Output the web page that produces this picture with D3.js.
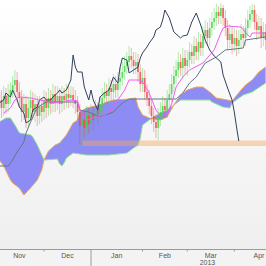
<!DOCTYPE html>
<html>
<head>
<meta charset="utf-8">
<script src="https://cdn.jsdelivr.net/npm/d3@7"></script>
<style>
  html, body { margin: 0; padding: 0; background: #f3f3f3; }
  svg { display: block; }
</style>
</head>
<body>
<div id="chart"></div>
<script>
const width = 266, height = 266, axisY = 249.5;

// bar index 0 = 1 Nov 2012, one bar per weekday
const months = [
  {label: "Nov", start: 0}, {label: "Dec", start: 22}, {label: "Jan", start: 43},
  {label: "Feb", start: 66}, {label: "Mar", start: 86}, {label: "Apr", start: 107}, {label: "", start: 129}
];
const years = [{label: "2013", start: 43, end: 147}];

// candles, bar index 2..121 (price units of the chart, no scale shown)
const firstBar = 2;
const opens = [158,150,142,154,146,155,160,165,170,158, 152,138,146,132,142,150,138,146,134,144,
  138,150,142,152,146,156,148,154,146,154, 150,156,152,155,150,146,138,124,130,122,
  134,126,136,130,140,136,146,152,158,154, 162,158,166,160,168,172,178,184,188,194,
  190,184,188,178,166,172,158,152,144,134, 128,122,132,138,144,140,150,156,166,174,
  180,188,182,192,184,190,198,194,204,198, 208,202,214,220,212,222,228,232,238,234,
  242,232,222,210,216,206,212,204,210,216, 212,222,230,236,240,228,220,224,212,218];
const closes = [150,142,154,146,155,160,165,170,158,152, 138,146,132,142,150,138,146,134,144,138,
  150,142,152,146,156,148,154,146,154,150, 156,152,155,150,146,138,124,130,122,134,
  126,136,130,140,136,146,152,158,154,162, 158,166,160,168,172,178,184,188,194,190,
  184,188,178,166,172,158,152,144,134,128, 122,132,138,144,140,150,156,166,174,180,
  188,182,192,184,190,198,194,204,198,208, 202,214,220,212,222,228,232,238,234,242,
  232,222,210,216,206,212,204,210,216,212, 222,230,236,240,228,220,224,212,218,210];
const highs = [167,160,164,162,166,168,174,180,178,168, 160,156,154,152,160,158,156,154,154,152,
  160,158,162,160,166,164,164,162,164,162, 166,164,164,163,160,154,146,140,138,144,
  142,146,144,150,148,154,162,168,166,172, 170,176,174,178,182,188,194,198,204,202,
  198,198,196,186,182,180,166,160,152,142, 136,142,148,154,152,160,166,176,184,190,
  198,196,202,200,200,208,206,214,212,218, 216,224,230,228,232,238,242,246,244,247,
  245,240,230,226,224,222,220,220,226,224, 232,240,244,246,245,236,234,232,228,226];
const lows = [140,132,134,136,138,146,152,156,148,142, 128,130,122,124,132,130,128,124,126,128,
  130,132,134,136,138,138,140,136,138,140, 142,142,144,142,136,130,106,104,112,114,
  116,118,120,122,126,128,136,144,146,146, 150,150,152,152,160,164,170,176,180,182,
  176,176,168,158,158,150,144,136,126,118, 112,110,124,130,132,132,142,148,158,166,
  172,174,172,176,174,182,186,186,190,190, 194,194,206,204,204,214,220,224,226,226,
  224,214,200,202,196,198,194,196,202,204, 204,214,222,228,220,210,212,202,204,200];

// ichimoku lines as [bar index, value]
const tenkan = [[4,137],[7,142],[9,150],[11,153],[16,152],[20,150],[27,147],[34,150],[37,149],[38,140],
  [41,130],[45,133],[48,133],[52,140],[55,150],[58,160],[60,170],[65,170],[67,165],[69,157],[72,140],
  [74,134],[77,136],[79,146],[81,163],[84,173],[87,180],[93,187],[98,200],[101,217],[102,222],[104,224],
  [110,223],[113,215],[114,213],[115,217],[121,217]];
const kijun = [[2,84],[6,84],[8,90],[10,98],[13,108],[14,117],[16,128],[18,138],[20,144],[23,148],[37,148],
  [38,140],[42,138],[47,133],[53,138],[57,147],[60,151],[81,151],[84,157],[87,167],[90,173],[94,187],
  [99,193],[103,200],[111,202],[112,210],[121,213]];
const chikou = [[2,147],[4,150],[5,157],[7,153],[8,160],[10,150],[11,143],[13,137],[14,127],[16,130],
  [17,140],[19,143],[20,150],[22,153],[23,150],[25,150],[26,153],[28,157],[29,160],[30,157],[32,160],
  [34,170],[35,195],[36,183],[37,178],[39,178],[40,163],[42,150],[43,160],[44,150],[46,140],[47,153],
  [49,157],[51,160],[53,173],[55,167],[56,183],[57,192],[59,190],[60,177],[62,180],[64,183],[65,192],
  [66,197],[68,203],[69,207],[71,213],[72,220],[74,223],[75,230],[76,240],[78,232],[80,218],[83,212],
  [84,214],[86,215],[88,228],[90,237],[92,225],[94,210],[96,200],[98,194],[101,188],[102,175],[104,162],
  [106,150],[107,138],[108,123],[109,109]];
const senkouA = [[2,128],[5,132],[7,132],[9,125],[11,117],[16,115],[17,113],[19,105],[22,90],[28,91],
  [29,86],[30,84],[31,87],[32,92],[35,97],[41,95],[51,95],[59,97],[62,102],[64,105],[65,112],[66,125],
  [69,130],[74,137],[77,140],[80,145],[83,150],[96,150],[97,148],[102,143],[105,142],[106,147],[111,155],
  [115,158],[121,167]];
const senkouB = [[2,90],[4,84],[7,70],[8,67],[11,62],[13,55],[16,62],[19,70],[21,80],[22,90],[24,99],
  [27,105],[29,107],[32,115],[35,127],[37,130],[38,138],[41,142],[47,145],[50,148],[53,150],[60,151],
  [63,152],[64,143],[66,135],[69,132],[74,130],[77,133],[80,145],[83,155],[86,160],[90,163],[93,163],
  [96,158],[99,152],[104,150],[106,149],[110,160],[112,165],[115,170],[118,178],[121,183]];
// highlighted price band
const band = {from: 39, to: 125, low: 104, high: 109.5};

const x = d3.scaleLinear().domain([22, 107]).range([44, 234.3]);
const y = d3.scaleLinear().domain([0, 250]).range([250, 0]);

const svg = d3.select("#chart").append("svg")
  .attr("width", width).attr("height", height);

const defs = svg.append("defs");
const grad = defs.append("linearGradient").attr("id", "bg")
  .attr("x1", 0).attr("y1", 0).attr("x2", 0).attr("y2", 1);
grad.append("stop").attr("offset", "0%").attr("stop-color", "#ffffff");
grad.append("stop").attr("offset", "100%").attr("stop-color", "#efefef");
defs.append("clipPath").attr("id", "plot")
  .append("rect").attr("x", 0).attr("y", 0).attr("width", width).attr("height", axisY);

svg.append("rect").attr("width", width).attr("height", height).attr("fill", "#f3f3f3");
svg.append("rect").attr("width", width).attr("height", axisY).attr("fill", "url(#bg)");

const plot = svg.append("g").attr("clip-path", "url(#plot)");

// cloud: A forward, B backward
const cloudPts = senkouA.map(d => [x(d[0]), y(d[1])])
  .concat(senkouB.slice().reverse().map(d => [x(d[0]), y(d[1])]));
plot.append("path")
  .attr("d", "M" + cloudPts.join("L") + "Z")
  .attr("fill", "#8c8cf4");

plot.append("rect")
  .attr("x", x(band.from)).attr("width", x(band.to) - x(band.from))
  .attr("y", y(band.high)).attr("height", y(band.low) - y(band.high))
  .attr("fill", "#f7a860").attr("opacity", 0.45);

const line = d3.line().x(d => x(d[0])).y(d => y(d[1]));

plot.append("path").attr("d", line(senkouA))
  .attr("fill", "none").attr("stroke", "#8fe08f").attr("stroke-width", 1);
plot.append("path").attr("d", line(senkouB))
  .attr("fill", "none").attr("stroke", "#f2a45c").attr("stroke-width", 1);

// candles
const bars = d3.range(opens.length).map(i => ({
  i: firstBar + i, o: opens[i], h: highs[i], l: lows[i], c: closes[i]
}));
const candle = plot.append("g").selectAll("g").data(bars).join("g")
  .attr("fill", d => d.c >= d.o ? "#3fd43f" : "#f04444")
  .attr("stroke", d => d.c >= d.o ? "#3fd43f" : "#f04444");
candle.append("line")
  .attr("x1", d => x(d.i)).attr("x2", d => x(d.i))
  .attr("y1", d => y(d.h)).attr("y2", d => y(d.l))
  .attr("stroke-width", 1).attr("stroke-opacity", 0.4);
candle.append("rect")
  .attr("x", d => x(d.i) - 0.9).attr("width", 1.8)
  .attr("y", d => y(Math.max(d.o, d.c)))
  .attr("height", d => Math.max(1, Math.abs(y(d.o) - y(d.c))))
  .attr("stroke", "none").attr("opacity", 0.75);

plot.append("path").attr("d", line(kijun))
  .attr("fill", "none").attr("stroke", "#5f7886").attr("stroke-width", 1);
plot.append("path").attr("d", line(chikou))
  .attr("fill", "none").attr("stroke", "#33415e").attr("stroke-width", 1);
plot.append("path").attr("d", line(tenkan))
  .attr("fill", "none").attr("stroke", "#f25cf2").attr("stroke-width", 1);

// time axis
svg.append("line").attr("x1", 0).attr("x2", width).attr("y1", axisY).attr("y2", axisY)
  .attr("stroke", "#9a9a9a").attr("stroke-width", 1);
svg.append("g").selectAll("line").data(months.slice(1)).join("line")
  .attr("x1", d => x(d.start)).attr("x2", d => x(d.start))
  .attr("y1", axisY).attr("y2", d => years.some(yr => yr.start === d.start) ? height : axisY + 2)
  .attr("stroke", "#9a9a9a").attr("stroke-width", 1);
svg.append("g").selectAll("text").data(d3.pairs(months)).join("text")
  .attr("x", d => (x(d[0].start) + x(d[1].start)) / 2)
  .attr("y", 258)
  .attr("text-anchor", "middle")
  .attr("font-family", "Liberation Sans, Arial, sans-serif")
  .attr("font-size", 7).attr("fill", "#555")
  .text(d => d[0].label);
svg.append("g").selectAll("text").data(years).join("text")
  .attr("x", d => (x(d.start) + x(d.end)) / 2)
  .attr("y", 265)
  .attr("text-anchor", "middle")
  .attr("font-family", "Liberation Sans, Arial, sans-serif")
  .attr("font-size", 7).attr("fill", "#555")
  .text(d => d.label);
</script>
</body>
</html>
